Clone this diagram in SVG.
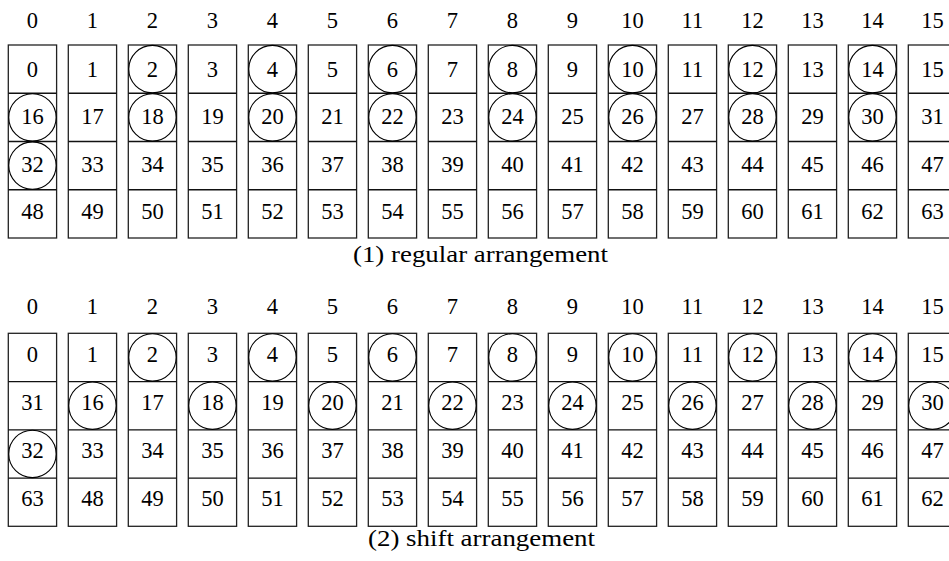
<svg xmlns="http://www.w3.org/2000/svg" width="949" height="561" viewBox="0 0 949 561">
<style>
text{font-family:"Liberation Serif","Times New Roman","DejaVu Serif",serif;font-size:22.5px;fill:#000;text-anchor:middle}
.box{fill:none;stroke:#222;stroke-width:1.3}
.ln{fill:none;stroke:#111;stroke-width:1.3}
.ring{fill:none;stroke:#000;stroke-width:1.1}
</style>
<rect width="949" height="561" fill="#fff"/>
<g id="headers-top">
<text x="32.45" y="27.5">0</text><text x="92.45" y="27.5">1</text><text x="152.45" y="27.5">2</text><text x="212.45" y="27.5">3</text><text x="272.45" y="27.5">4</text><text x="332.45" y="27.5">5</text><text x="392.45" y="27.5">6</text><text x="452.45" y="27.5">7</text><text x="512.45" y="27.5">8</text><text x="572.45" y="27.5">9</text><text x="632.45" y="27.5">10</text><text x="692.45" y="27.5">11</text><text x="752.45" y="27.5">12</text><text x="812.45" y="27.5">13</text><text x="872.45" y="27.5">14</text><text x="932.45" y="27.5">15</text>
</g>
<g id="top-c0"><rect class="box" x="8.3" y="45" width="48.3" height="193"/><path class="ln" d="M8.3 93.25H56.6M8.3 141.5H56.6M8.3 189.75H56.6"/><text x="32.45" y="76.5">0</text><text x="32.45" y="124">16</text><text x="32.45" y="171.5">32</text><text x="32.45" y="219">48</text><circle class="ring" cx="32.45" cy="117.4" r="23.7"/><circle class="ring" cx="32.45" cy="165.6" r="23.7"/></g>
<g id="top-c1" transform="translate(60,0)"><rect class="box" x="8.3" y="45" width="48.3" height="193"/><path class="ln" d="M8.3 93.25H56.6M8.3 141.5H56.6M8.3 189.75H56.6"/><text x="32.45" y="76.5">1</text><text x="32.45" y="124">17</text><text x="32.45" y="171.5">33</text><text x="32.45" y="219">49</text></g>
<g id="top-c2" transform="translate(120,0)"><rect class="box" x="8.3" y="45" width="48.3" height="193"/><path class="ln" d="M8.3 93.25H56.6M8.3 141.5H56.6M8.3 189.75H56.6"/><text x="32.45" y="76.5">2</text><text x="32.45" y="124">18</text><text x="32.45" y="171.5">34</text><text x="32.45" y="219">50</text><circle class="ring" cx="32.45" cy="69.1" r="23.7"/><circle class="ring" cx="32.45" cy="117.4" r="23.7"/></g>
<g id="top-c3" transform="translate(180,0)"><rect class="box" x="8.3" y="45" width="48.3" height="193"/><path class="ln" d="M8.3 93.25H56.6M8.3 141.5H56.6M8.3 189.75H56.6"/><text x="32.45" y="76.5">3</text><text x="32.45" y="124">19</text><text x="32.45" y="171.5">35</text><text x="32.45" y="219">51</text></g>
<g id="top-c4" transform="translate(240,0)"><rect class="box" x="8.3" y="45" width="48.3" height="193"/><path class="ln" d="M8.3 93.25H56.6M8.3 141.5H56.6M8.3 189.75H56.6"/><text x="32.45" y="76.5">4</text><text x="32.45" y="124">20</text><text x="32.45" y="171.5">36</text><text x="32.45" y="219">52</text><circle class="ring" cx="32.45" cy="69.1" r="23.7"/><circle class="ring" cx="32.45" cy="117.4" r="23.7"/></g>
<g id="top-c5" transform="translate(300,0)"><rect class="box" x="8.3" y="45" width="48.3" height="193"/><path class="ln" d="M8.3 93.25H56.6M8.3 141.5H56.6M8.3 189.75H56.6"/><text x="32.45" y="76.5">5</text><text x="32.45" y="124">21</text><text x="32.45" y="171.5">37</text><text x="32.45" y="219">53</text></g>
<g id="top-c6" transform="translate(360,0)"><rect class="box" x="8.3" y="45" width="48.3" height="193"/><path class="ln" d="M8.3 93.25H56.6M8.3 141.5H56.6M8.3 189.75H56.6"/><text x="32.45" y="76.5">6</text><text x="32.45" y="124">22</text><text x="32.45" y="171.5">38</text><text x="32.45" y="219">54</text><circle class="ring" cx="32.45" cy="69.1" r="23.7"/><circle class="ring" cx="32.45" cy="117.4" r="23.7"/></g>
<g id="top-c7" transform="translate(420,0)"><rect class="box" x="8.3" y="45" width="48.3" height="193"/><path class="ln" d="M8.3 93.25H56.6M8.3 141.5H56.6M8.3 189.75H56.6"/><text x="32.45" y="76.5">7</text><text x="32.45" y="124">23</text><text x="32.45" y="171.5">39</text><text x="32.45" y="219">55</text></g>
<g id="top-c8" transform="translate(480,0)"><rect class="box" x="8.3" y="45" width="48.3" height="193"/><path class="ln" d="M8.3 93.25H56.6M8.3 141.5H56.6M8.3 189.75H56.6"/><text x="32.45" y="76.5">8</text><text x="32.45" y="124">24</text><text x="32.45" y="171.5">40</text><text x="32.45" y="219">56</text><circle class="ring" cx="32.45" cy="69.1" r="23.7"/><circle class="ring" cx="32.45" cy="117.4" r="23.7"/></g>
<g id="top-c9" transform="translate(540,0)"><rect class="box" x="8.3" y="45" width="48.3" height="193"/><path class="ln" d="M8.3 93.25H56.6M8.3 141.5H56.6M8.3 189.75H56.6"/><text x="32.45" y="76.5">9</text><text x="32.45" y="124">25</text><text x="32.45" y="171.5">41</text><text x="32.45" y="219">57</text></g>
<g id="top-c10" transform="translate(600,0)"><rect class="box" x="8.3" y="45" width="48.3" height="193"/><path class="ln" d="M8.3 93.25H56.6M8.3 141.5H56.6M8.3 189.75H56.6"/><text x="32.45" y="76.5">10</text><text x="32.45" y="124">26</text><text x="32.45" y="171.5">42</text><text x="32.45" y="219">58</text><circle class="ring" cx="32.45" cy="69.1" r="23.7"/><circle class="ring" cx="32.45" cy="117.4" r="23.7"/></g>
<g id="top-c11" transform="translate(660,0)"><rect class="box" x="8.3" y="45" width="48.3" height="193"/><path class="ln" d="M8.3 93.25H56.6M8.3 141.5H56.6M8.3 189.75H56.6"/><text x="32.45" y="76.5">11</text><text x="32.45" y="124">27</text><text x="32.45" y="171.5">43</text><text x="32.45" y="219">59</text></g>
<g id="top-c12" transform="translate(720,0)"><rect class="box" x="8.3" y="45" width="48.3" height="193"/><path class="ln" d="M8.3 93.25H56.6M8.3 141.5H56.6M8.3 189.75H56.6"/><text x="32.45" y="76.5">12</text><text x="32.45" y="124">28</text><text x="32.45" y="171.5">44</text><text x="32.45" y="219">60</text><circle class="ring" cx="32.45" cy="69.1" r="23.7"/><circle class="ring" cx="32.45" cy="117.4" r="23.7"/></g>
<g id="top-c13" transform="translate(780,0)"><rect class="box" x="8.3" y="45" width="48.3" height="193"/><path class="ln" d="M8.3 93.25H56.6M8.3 141.5H56.6M8.3 189.75H56.6"/><text x="32.45" y="76.5">13</text><text x="32.45" y="124">29</text><text x="32.45" y="171.5">45</text><text x="32.45" y="219">61</text></g>
<g id="top-c14" transform="translate(840,0)"><rect class="box" x="8.3" y="45" width="48.3" height="193"/><path class="ln" d="M8.3 93.25H56.6M8.3 141.5H56.6M8.3 189.75H56.6"/><text x="32.45" y="76.5">14</text><text x="32.45" y="124">30</text><text x="32.45" y="171.5">46</text><text x="32.45" y="219">62</text><circle class="ring" cx="32.45" cy="69.1" r="23.7"/><circle class="ring" cx="32.45" cy="117.4" r="23.7"/></g>
<g id="top-c15" transform="translate(900,0)"><rect class="box" x="8.3" y="45" width="48.3" height="193"/><path class="ln" d="M8.3 93.25H56.6M8.3 141.5H56.6M8.3 189.75H56.6"/><text x="32.45" y="76.5">15</text><text x="32.45" y="124">31</text><text x="32.45" y="171.5">47</text><text x="32.45" y="219">63</text></g>
<text id="caption-1" x="480.5" y="261.5" textLength="255" lengthAdjust="spacingAndGlyphs">(1) regular arrangement</text>
<g id="headers-bottom">
<text x="32.45" y="314">0</text><text x="92.45" y="314">1</text><text x="152.45" y="314">2</text><text x="212.45" y="314">3</text><text x="272.45" y="314">4</text><text x="332.45" y="314">5</text><text x="392.45" y="314">6</text><text x="452.45" y="314">7</text><text x="512.45" y="314">8</text><text x="572.45" y="314">9</text><text x="632.45" y="314">10</text><text x="692.45" y="314">11</text><text x="752.45" y="314">12</text><text x="812.45" y="314">13</text><text x="872.45" y="314">14</text><text x="932.45" y="314">15</text>
</g>
<g id="bot-c0"><rect class="box" x="8.3" y="333.3" width="48.3" height="193"/><path class="ln" d="M8.3 381.55H56.6M8.3 429.8H56.6M8.3 478.05H56.6"/><text x="32.45" y="362">0</text><text x="32.45" y="410">31</text><text x="32.45" y="458">32</text><text x="32.45" y="505.5">63</text><circle class="ring" cx="32.45" cy="453.9" r="23.7"/></g>
<g id="bot-c1" transform="translate(60,0)"><rect class="box" x="8.3" y="333.3" width="48.3" height="193"/><path class="ln" d="M8.3 381.55H56.6M8.3 429.8H56.6M8.3 478.05H56.6"/><text x="32.45" y="362">1</text><text x="32.45" y="410">16</text><text x="32.45" y="458">33</text><text x="32.45" y="505.5">48</text><circle class="ring" cx="32.45" cy="405.7" r="23.7"/></g>
<g id="bot-c2" transform="translate(120,0)"><rect class="box" x="8.3" y="333.3" width="48.3" height="193"/><path class="ln" d="M8.3 381.55H56.6M8.3 429.8H56.6M8.3 478.05H56.6"/><text x="32.45" y="362">2</text><text x="32.45" y="410">17</text><text x="32.45" y="458">34</text><text x="32.45" y="505.5">49</text><circle class="ring" cx="32.45" cy="357.4" r="23.7"/></g>
<g id="bot-c3" transform="translate(180,0)"><rect class="box" x="8.3" y="333.3" width="48.3" height="193"/><path class="ln" d="M8.3 381.55H56.6M8.3 429.8H56.6M8.3 478.05H56.6"/><text x="32.45" y="362">3</text><text x="32.45" y="410">18</text><text x="32.45" y="458">35</text><text x="32.45" y="505.5">50</text><circle class="ring" cx="32.45" cy="405.7" r="23.7"/></g>
<g id="bot-c4" transform="translate(240,0)"><rect class="box" x="8.3" y="333.3" width="48.3" height="193"/><path class="ln" d="M8.3 381.55H56.6M8.3 429.8H56.6M8.3 478.05H56.6"/><text x="32.45" y="362">4</text><text x="32.45" y="410">19</text><text x="32.45" y="458">36</text><text x="32.45" y="505.5">51</text><circle class="ring" cx="32.45" cy="357.4" r="23.7"/></g>
<g id="bot-c5" transform="translate(300,0)"><rect class="box" x="8.3" y="333.3" width="48.3" height="193"/><path class="ln" d="M8.3 381.55H56.6M8.3 429.8H56.6M8.3 478.05H56.6"/><text x="32.45" y="362">5</text><text x="32.45" y="410">20</text><text x="32.45" y="458">37</text><text x="32.45" y="505.5">52</text><circle class="ring" cx="32.45" cy="405.7" r="23.7"/></g>
<g id="bot-c6" transform="translate(360,0)"><rect class="box" x="8.3" y="333.3" width="48.3" height="193"/><path class="ln" d="M8.3 381.55H56.6M8.3 429.8H56.6M8.3 478.05H56.6"/><text x="32.45" y="362">6</text><text x="32.45" y="410">21</text><text x="32.45" y="458">38</text><text x="32.45" y="505.5">53</text><circle class="ring" cx="32.45" cy="357.4" r="23.7"/></g>
<g id="bot-c7" transform="translate(420,0)"><rect class="box" x="8.3" y="333.3" width="48.3" height="193"/><path class="ln" d="M8.3 381.55H56.6M8.3 429.8H56.6M8.3 478.05H56.6"/><text x="32.45" y="362">7</text><text x="32.45" y="410">22</text><text x="32.45" y="458">39</text><text x="32.45" y="505.5">54</text><circle class="ring" cx="32.45" cy="405.7" r="23.7"/></g>
<g id="bot-c8" transform="translate(480,0)"><rect class="box" x="8.3" y="333.3" width="48.3" height="193"/><path class="ln" d="M8.3 381.55H56.6M8.3 429.8H56.6M8.3 478.05H56.6"/><text x="32.45" y="362">8</text><text x="32.45" y="410">23</text><text x="32.45" y="458">40</text><text x="32.45" y="505.5">55</text><circle class="ring" cx="32.45" cy="357.4" r="23.7"/></g>
<g id="bot-c9" transform="translate(540,0)"><rect class="box" x="8.3" y="333.3" width="48.3" height="193"/><path class="ln" d="M8.3 381.55H56.6M8.3 429.8H56.6M8.3 478.05H56.6"/><text x="32.45" y="362">9</text><text x="32.45" y="410">24</text><text x="32.45" y="458">41</text><text x="32.45" y="505.5">56</text><circle class="ring" cx="32.45" cy="405.7" r="23.7"/></g>
<g id="bot-c10" transform="translate(600,0)"><rect class="box" x="8.3" y="333.3" width="48.3" height="193"/><path class="ln" d="M8.3 381.55H56.6M8.3 429.8H56.6M8.3 478.05H56.6"/><text x="32.45" y="362">10</text><text x="32.45" y="410">25</text><text x="32.45" y="458">42</text><text x="32.45" y="505.5">57</text><circle class="ring" cx="32.45" cy="357.4" r="23.7"/></g>
<g id="bot-c11" transform="translate(660,0)"><rect class="box" x="8.3" y="333.3" width="48.3" height="193"/><path class="ln" d="M8.3 381.55H56.6M8.3 429.8H56.6M8.3 478.05H56.6"/><text x="32.45" y="362">11</text><text x="32.45" y="410">26</text><text x="32.45" y="458">43</text><text x="32.45" y="505.5">58</text><circle class="ring" cx="32.45" cy="405.7" r="23.7"/></g>
<g id="bot-c12" transform="translate(720,0)"><rect class="box" x="8.3" y="333.3" width="48.3" height="193"/><path class="ln" d="M8.3 381.55H56.6M8.3 429.8H56.6M8.3 478.05H56.6"/><text x="32.45" y="362">12</text><text x="32.45" y="410">27</text><text x="32.45" y="458">44</text><text x="32.45" y="505.5">59</text><circle class="ring" cx="32.45" cy="357.4" r="23.7"/></g>
<g id="bot-c13" transform="translate(780,0)"><rect class="box" x="8.3" y="333.3" width="48.3" height="193"/><path class="ln" d="M8.3 381.55H56.6M8.3 429.8H56.6M8.3 478.05H56.6"/><text x="32.45" y="362">13</text><text x="32.45" y="410">28</text><text x="32.45" y="458">45</text><text x="32.45" y="505.5">60</text><circle class="ring" cx="32.45" cy="405.7" r="23.7"/></g>
<g id="bot-c14" transform="translate(840,0)"><rect class="box" x="8.3" y="333.3" width="48.3" height="193"/><path class="ln" d="M8.3 381.55H56.6M8.3 429.8H56.6M8.3 478.05H56.6"/><text x="32.45" y="362">14</text><text x="32.45" y="410">29</text><text x="32.45" y="458">46</text><text x="32.45" y="505.5">61</text><circle class="ring" cx="32.45" cy="357.4" r="23.7"/></g>
<g id="bot-c15" transform="translate(900,0)"><rect class="box" x="8.3" y="333.3" width="48.3" height="193"/><path class="ln" d="M8.3 381.55H56.6M8.3 429.8H56.6M8.3 478.05H56.6"/><text x="32.45" y="362">15</text><text x="32.45" y="410">30</text><text x="32.45" y="458">47</text><text x="32.45" y="505.5">62</text><circle class="ring" cx="32.45" cy="405.7" r="23.7"/></g>
<text id="caption-2" x="481.5" y="546" textLength="227" lengthAdjust="spacingAndGlyphs">(2) shift arrangement</text>
</svg>
